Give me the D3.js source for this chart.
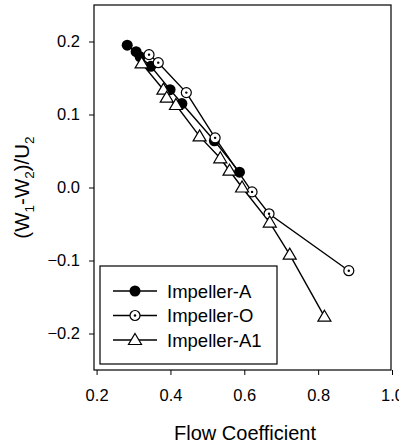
<!DOCTYPE html>
<html>
<head>
<meta charset="utf-8">
<script src="https://cdn.jsdelivr.net/npm/d3@7"></script>
<style>
  body { margin: 0; background: #fff; }
  svg { font-family: "Liberation Sans", Arial, sans-serif; }
</style>
</head>
<body>
<svg id="chart" width="399" height="446"></svg>
<script>
// values
const impellerA = [
  [0.283, 0.195], [0.307, 0.186], [0.318, 0.179], [0.347, 0.166],
  [0.399, 0.134], [0.431, 0.115], [0.519, 0.064], [0.587, 0.021]
];
const impellerO = [
  [0.342, 0.182], [0.367, 0.171], [0.443, 0.130], [0.521, 0.068],
  [0.621, -0.006], [0.667, -0.036], [0.883, -0.114]
];
const impellerA1 = [
  [0.322, 0.170], [0.381, 0.134], [0.390, 0.123], [0.415, 0.113],
  [0.479, 0.070], [0.535, 0.040], [0.560, 0.023], [0.594, 0.000],
  [0.669, -0.048], [0.723, -0.092], [0.817, -0.177]
];
const xTicks = [0.2, 0.4, 0.6, 0.8, 1.0];
const yTicks = [-0.2, -0.1, 0.0, 0.1, 0.2];
const seriesNames = ['Impeller-A', 'Impeller-O', 'Impeller-A1'];

const svg = d3.select('#chart');
const plotLeft = 94, plotRight = 391, plotTop = 5, plotBottom = 370;

const x = d3.scaleLinear().domain([0.193, 1.0]).range([plotLeft, 392]);
const y = d3.scaleLinear().domain([-0.25, 0.25]).range([plotBottom, plotTop]);

// frame
svg.append('rect')
  .attr('x', plotLeft).attr('y', plotTop)
  .attr('width', plotRight - plotLeft).attr('height', plotBottom - plotTop)
  .attr('fill', 'none').attr('stroke', '#000').attr('stroke-width', 1.2);

// x axis
const xAxis = svg.append('g')
  .attr('transform', `translate(0,${plotBottom})`)
  .call(d3.axisBottom(x).tickValues(xTicks).tickSize(5).tickPadding(14)
    .tickFormat(d3.format('.1f')));
xAxis.select('.domain').remove();
xAxis.selectAll('text').attr('font-size', '16.5px').attr('fill', '#000');
xAxis.selectAll('line').attr('stroke', '#000');

// y axis
const yAxis = svg.append('g')
  .attr('transform', `translate(${plotLeft},0)`)
  .call(d3.axisLeft(y).tickValues(yTicks).tickSize(5).tickPadding(9)
    .tickFormat(d3.format('.1f')));
yAxis.select('.domain').remove();
yAxis.selectAll('text').attr('font-size', '16.5px').attr('fill', '#000');
yAxis.selectAll('line').attr('stroke', '#000');

// axis titles
svg.append('text')
  .attr('x', 245).attr('y', 440)
  .attr('text-anchor', 'middle')
  .attr('font-size', '20px')
  .text('Flow Coefficient');

const yt = svg.append('text')
  .attr('transform', `translate(29,${(plotTop + plotBottom) / 2}) rotate(-90)`)
  .attr('text-anchor', 'middle')
  .attr('font-size', '20.5px');
yt.append('tspan').text('(W');
yt.append('tspan').attr('font-size', '13.5px').attr('dy', 5).text('1');
yt.append('tspan').attr('dy', -5).text('-W');
yt.append('tspan').attr('font-size', '13.5px').attr('dy', 5).text('2');
yt.append('tspan').attr('dy', -5).text(')/U');
yt.append('tspan').attr('font-size', '13.5px').attr('dy', 5).text('2');

const line = d3.line().x(d => x(d[0])).y(d => y(d[1]));

function drawMarker(g, type) {
  if (type === 0) {
    g.append('circle').attr('r', 5.5).attr('fill', '#000');
  } else if (type === 1) {
    g.append('circle').attr('r', 5).attr('fill', '#fff')
      .attr('stroke', '#000').attr('stroke-width', 1.2);
    g.append('circle').attr('r', 1.2).attr('fill', '#000');
  } else {
    g.append('path').attr('d', 'M0,-6.5L6.5,4.5L-6.5,4.5Z')
      .attr('fill', '#fff').attr('stroke', '#000').attr('stroke-width', 1.2);
  }
}

const allSeries = [impellerA, impellerO, impellerA1];
allSeries.forEach(data => {
  svg.append('path')
    .datum(data)
    .attr('d', line)
    .attr('fill', 'none')
    .attr('stroke', '#000')
    .attr('stroke-width', 1.4);
});
allSeries.forEach((data, i) => {
  svg.append('g').selectAll('g')
    .data(data)
    .enter().append('g')
    .attr('transform', d => `translate(${x(d[0])},${y(d[1])})`)
    .each(function () { drawMarker(d3.select(this), i); });
});

// legend
const legend = svg.append('g');
legend.append('rect')
  .attr('x', 100).attr('y', 266).attr('width', 177).attr('height', 98)
  .attr('fill', '#fff').attr('stroke', '#000').attr('stroke-width', 1.2);
seriesNames.forEach((name, i) => {
  const ry = 291 + i * 24.5;
  legend.append('line')
    .attr('x1', 113).attr('x2', 157).attr('y1', ry).attr('y2', ry)
    .attr('stroke', '#000').attr('stroke-width', 1.4);
  const m = legend.append('g').attr('transform', `translate(135,${ry})`);
  drawMarker(m, i);
  legend.append('text')
    .attr('x', 167).attr('y', ry)
    .attr('dy', '0.36em')
    .attr('font-size', '18.5px')
    .text(name);
});
</script>
</body>
</html>
